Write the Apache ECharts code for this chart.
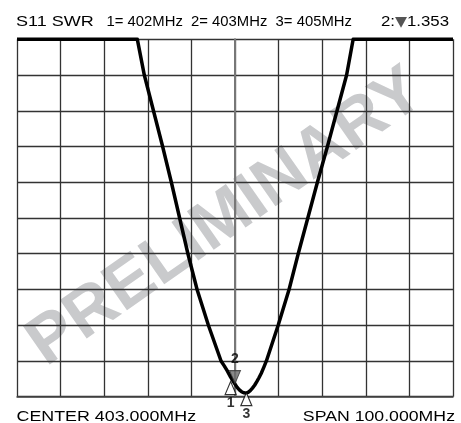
<!DOCTYPE html>
<html>
<head>
<meta charset="utf-8">
<script src="https://cdn.jsdelivr.net/npm/echarts@6/dist/echarts.min.js"></script>
<style>
  html, body { margin: 0; padding: 0; background: #fff; }
  #main { width: 461px; height: 423px; }
</style>
</head>
<body>
<div id="main"></div>
<script>
// trace (SWR clamps at the top of the screen)
var centerMHz = 403;
var spanMHz = 100;
var freqMHz = [353, 380.6, 382.2, 384.3, 386.4, 388.4, 390.3, 392.2, 394.3, 396.9, 399.8,
  400.5, 401.2, 402, 402.5, 403, 403.5, 404, 404.5, 405, 405.5, 406, 406.5, 407,
  407.5, 408, 408.5, 409, 409.6, 410.2,
  412.9, 415.4, 417.5, 419.7, 421.9, 424.2, 426.4, 428.6, 430.1, 453];
var swr = [11, 11, 10, 9, 8, 7, 6, 5, 4, 3, 2,
  1.87, 1.73, 1.55, 1.45, 1.353, 1.26, 1.19, 1.14, 1.11, 1.1, 1.12, 1.17, 1.24,
  1.32, 1.42, 1.53, 1.65, 1.82, 2,
  3, 4, 5, 6, 7, 8, 9, 10, 11, 11];

// markers
var markerNames = ['1', '2', '3'];
var markerFreq = [402, 403, 405.6];
var markerSwr = [1.55, 1.353, 1.1];

var swrMin = 1, swrMax = 11, swrStep = 1;
var divMHz = 10;

var chart = echarts.init(document.getElementById('main'));

var trace = [];
for (var i = 0; i < freqMHz.length; i++) {
  trace.push([freqMHz[i] - centerMHz, swr[i]]);
}

function marker(idx, down, off) {
  return {
    value: [markerFreq[idx] - centerMHz, markerSwr[idx]],
    symbolRotate: down ? 180 : 0,
    symbolOffset: [0, off],
    itemStyle: down ? {color: '#6b6b6b', borderColor: '#333', borderWidth: 1}
                    : {color: '#fff', borderColor: '#000', borderWidth: 1.2},
    label: {
      show: true,
      formatter: markerNames[idx],
      position: down ? 'top' : 'bottom',
      distance: down ? 4 : 1,
      color: '#000',
      fontSize: 14,
      fontWeight: 'bold',
      fontFamily: 'Liberation Sans, Arial, sans-serif'
    }
  };
}

var txtFont = 'Liberation Sans, Arial, sans-serif';

chart.setOption({
  animation: false,
  grid: {left: 17, right: 8, top: 39.3, bottom: 26.3},
  xAxis: {
    type: 'value',
    min: -spanMHz / 2,
    max: spanMHz / 2,
    interval: divMHz,
    axisLabel: {show: false},
    axisTick: {show: false},
    axisLine: {show: true, lineStyle: {color: '#444', width: 1.5}},
    splitLine: {show: true, lineStyle: {color: '#333', width: 1.3}}
  },
  yAxis: {
    type: 'value',
    min: swrMin,
    max: swrMax,
    interval: swrStep,
    axisLabel: {show: false},
    axisTick: {show: false},
    axisLine: {show: true, lineStyle: {color: '#777', width: 2}},
    splitLine: {show: true, lineStyle: {color: '#333', width: 1.3}}
  },
  graphic: [
    {
      type: 'text', z: -1, x: 226, y: 218, rotation: 35 * Math.PI / 180,
      style: {text: 'PRELIMINARY', fill: '#c9cacc', font: 'bold 68px ' + txtFont,
        textAlign: 'center', verticalAlign: 'middle'}
    },
    {
      type: 'text', x: 16, y: 22, scaleX: 1.2,
      style: {text: 'S11 SWR', fill: '#000', font: '15px ' + txtFont, verticalAlign: 'middle'}
    },
    {
      type: 'text', x: 106.5, y: 22, scaleX: 1.06,
      style: {text: '1= 402MHz  2= 403MHz  3= 405MHz', fill: '#000', font: '14px ' + txtFont, verticalAlign: 'middle'}
    },
    {
      type: 'text', x: 449, y: 22, scaleX: 1.12,
      style: {text: '2:{t|▼}1.353', fill: '#000', font: '15px ' + txtFont, textAlign: 'right', verticalAlign: 'middle',
        rich: {t: {fill: '#555', font: '14px DejaVu Sans, sans-serif'}}}
    },
    {
      type: 'text', x: 16.5, y: 417, scaleX: 1.19,
      style: {text: 'CENTER 403.000MHz', fill: '#000', font: '15px ' + txtFont, verticalAlign: 'middle'}
    },
    {
      type: 'text', x: 455, y: 417, scaleX: 1.18,
      style: {text: 'SPAN 100.000MHz', fill: '#000', font: '15px ' + txtFont, textAlign: 'right', verticalAlign: 'middle'}
    }
  ],
  series: [
    {
      type: 'line',
      data: trace,
      showSymbol: false,
      smooth: false,
      clip: false,
      lineStyle: {color: '#000', width: 3.5, join: 'round'},
      z: 3
    },
    {
      type: 'scatter',
      symbol: 'triangle',
      symbolSize: [11, 13],
      data: [marker(0, false, 11), marker(1, true, -7), marker(2, false, 6)],
      z: 4
    }
  ]
});
</script>
</body>
</html>
